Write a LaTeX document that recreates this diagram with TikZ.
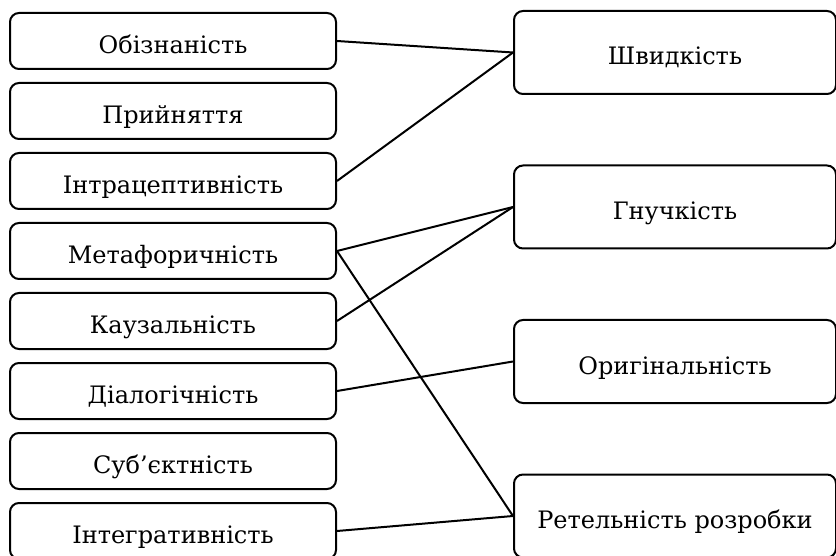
\documentclass[tikz,border=0pt]{standalone}
\usepackage{fontspec}
\setmainfont{DejaVu Serif}

\begin{document}
\begin{tikzpicture}[x=1pt, y=-1pt,
	leftbox/.style={draw, line width=2pt, rounded corners=9pt, inner sep=0pt,
		minimum width=326pt, minimum height=56pt, text height=27pt, text depth=2pt,
		font=\fontsize{24}{28}\selectfont},
	rightbox/.style={leftbox, minimum width=322pt, minimum height=83pt},
	link/.style={line width=2pt}]
	\useasboundingbox (0,0) rectangle (836,556);
	% left column
	\node[leftbox] (obizn) at (173,41) {Обізнаність};
	\node[leftbox] (pryin) at (173,111) {Прийняття};
	\node[leftbox] (intra) at (173,181) {Інтрацептивність};
	\node[leftbox] (metaf) at (173,251) {Метафоричність};
	\node[leftbox] (kauz) at (173,321) {Каузальність};
	\node[leftbox] (dial) at (173,391) {Діалогічність};
	\node[leftbox] (subj) at (173,461) {Суб’єктність};
	\node[leftbox] (integ) at (173,531) {Інтегративність};
	% right column
	\node[rightbox] (shvyd) at (675,52.5) {Швидкість};
	\node[rightbox] (hnuch) at (675,207) {Гнучкість};
	\node[rightbox] (orig) at (675,361.5) {Оригінальність};
	\node[rightbox] (retel) at (675,516) {Ретельність розробки};
	% links
	\draw[link] (obizn.east) -- (shvyd.west);
	\draw[link] (intra.east) -- (shvyd.west);
	\draw[link] (metaf.east) -- (hnuch.west);
	\draw[link] (kauz.east) -- (hnuch.west);
	\draw[link] (metaf.east) -- (retel.west);
	\draw[link] (dial.east) -- (orig.west);
	\draw[link] (integ.east) -- (retel.west);
\end{tikzpicture}
\end{document}
